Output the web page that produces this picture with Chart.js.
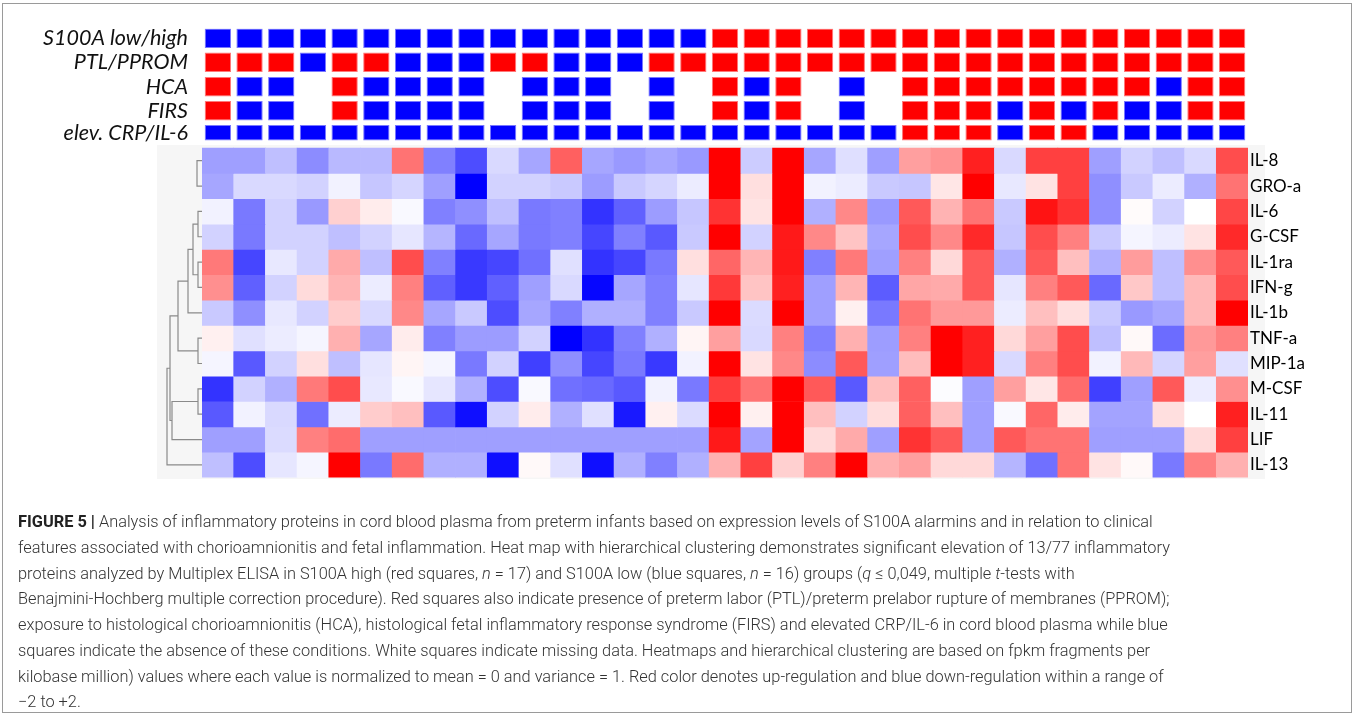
<!DOCTYPE html>
<html><head><meta charset="utf-8">
<script src="https://cdn.jsdelivr.net/npm/chart.js@4.4.1/dist/chart.umd.min.js"></script>
<style>
html,body{margin:0;padding:0;background:#fff;width:1355px;height:716px;overflow:hidden;}
#frame{position:absolute;left:2px;top:3px;width:1350px;height:710px;border:1px solid #9a9a9a;box-sizing:border-box;}
#panel{position:absolute;left:157px;top:145px;width:1108px;height:334px;background:#f6f6f6;}
#wrap{position:absolute;left:0;top:0;width:1355px;height:716px;}
#cap{position:absolute;left:18px;top:509px;font-family:Roboto,'Liberation Sans',sans-serif;font-weight:300;font-size:16.35px;line-height:25.75px;color:#333;white-space:nowrap;}
#cap b{font-weight:700;color:#222}
</style></head>
<body>
<div id="frame"></div>
<div id="panel"></div>
<div id="wrap"><canvas id="c" width="1355" height="716"></canvas></div>
<div id="cap">
<div><b>FIGURE 5 |</b> Analysis of inflammatory proteins in cord blood plasma from preterm infants based on expression levels of S100A alarmins and in relation to clinical</div>
<div>features associated with chorioamnionitis and fetal inflammation. Heat map with hierarchical clustering demonstrates significant elevation of 13/77 inflammatory</div>
<div>proteins analyzed by Multiplex ELISA in S100A high (red squares, <i>n</i> = 17) and S100A low (blue squares, <i>n</i> = 16) groups (<i>q</i> ≤ 0,049, multiple <i>t</i>-tests with</div>
<div>Benajmini-Hochberg multiple correction procedure). Red squares also indicate presence of preterm labor (PTL)/preterm prelabor rupture of membranes (PPROM);</div>
<div>exposure to histological chorioamnionitis (HCA), histological fetal inflammatory response syndrome (FIRS) and elevated CRP/IL-6 in cord blood plasma while blue</div>
<div>squares indicate the absence of these conditions. White squares indicate missing data. Heatmaps and hierarchical clustering are based on fpkm fragments per</div>
<div>kilobase million) values where each value is normalized to mean = 0 and variance = 1. Red color denotes up-regulation and blue down-regulation within a range of</div>
<div>−2 to +2.</div>
</div>
<script>
// ---------- DATA ----------
const samples = ['P1','P2','P3','P4','P5','P6','P7','P8','P9','P10','P11','P12','P13','P14','P15','P16','P17','P18','P19','P20','P21','P22','P23','P24','P25','P26','P27','P28','P29','P30','P31','P32','P33'];
const annotNames = ['S100A low/high','PTL/PPROM','HCA','FIRS','elev. CRP/IL-6'];
// 1 = red (high / present), 0 = blue (low / absent), null = missing
const s100a = [0,0,0,0,0,0,0,0,0,0,0,0,0,0,0,0, 1,1,1,1,1,1,1,1,1,1,1,1,1,1,1,1,1];
const ptl   = [1,1,1,0,1,1,0,0,0,1,1,0,0,0,1,1, 1,1,1,1,1,1,1,1,1,1,1,1,1,1,1,1,1];
const hca   = [1,0,0,null,1,0,0,0,0,null,0,0,0,null,0,null, 1,0,1,null,0,null,1,1,1,1,1,1,1,1,0,1,1];
const firs  = [1,0,0,null,1,0,0,0,0,null,0,0,0,null,0,null, 1,0,1,null,0,null,1,1,1,0,1,0,1,0,0,1,1];
const crp   = [0,0,0,0,0,0,0,0,0,0,0,0,0,0,0,0, 0,0,0,0,0,0,1,1,1,0,1,1,0,0,0,0,0];

const rowNames = ['IL-8','GRO-a','IL-6','G-CSF','IL-1ra','IFN-g','IL-1b','TNF-a','MIP-1a','M-CSF','IL-11','LIF','IL-13'];
const il8   = [-0.75,-0.75,-0.5,-0.9,-0.55,-0.55,1.1,-1.0,-1.4,-0.3,-0.7, 1.25,-0.7,-0.8,-0.7,-0.8,2,-0.4,2,-0.7,-0.25,-0.75, 0.75,0.85,1.75,-0.3,1.5,1.5,-0.75,-0.35,-0.5,-0.3,1.4];
const groa  = [-0.7,-0.3,-0.3,-0.35,-0.1,-0.45,-0.33,-0.75,-2,-0.35,-0.35, -0.42,-0.78,-0.42,-0.33,-0.15,2,0.25,2,-0.1,-0.15,-0.42, -0.45,0.2,2,-0.18,0.22,1.5,-0.88,-0.42,-0.15,-0.62,1.1];
const il6   = [-0.1,-1.05,-0.35,-0.8,0.37,0.15,-0.05,-1.0,-0.88,-0.5,-1.05, -1.0,-1.6,-1.25,-0.78,-0.45,1.6,0.22,2,-0.62,0.93,-0.8, 1.3,0.6,1.1,-0.42,1.85,1.6,-0.88,0.03,-0.35,0,1.45];
const gcsf  = [-0.35,-1.05,-0.35,-0.35,-0.5,-0.35,-0.2,-0.58,-1.18,-0.7,-1.05, -1.0,-1.45,-1.0,-1.3,-0.42,2,-0.35,1.8,0.93,0.46,-0.7, 1.4,0.93,1.68,-0.45,1.4,1.0,-0.42,-0.08,-0.15,0.22,1.68];
const il1ra = [1.05,-1.45,-0.18,-0.35,0.67,-0.5,1.4,-1.0,-1.55,-1.45,-1.12, -0.24,-1.6,-1.45,-1.05,0.25,1.2,0.58,1.8,-1.0,1.05,-0.75, 1.0,0.3,1.3,-0.62,1.3,0.5,-0.62,0.78,-0.5,0.88,1.3];
const ifng  = [0.88,-1.25,-0.35,0.28,0.58,-0.15,1.0,-1.25,-1.55,-1.25,-0.75, -0.3,-1.95,-0.7,-1.0,-0.2,1.55,0.46,1.75,-0.75,0.58,-1.28, 0.7,0.67,1.3,-0.2,1.0,1.3,-1.18,0.43,-0.5,0.55,1.4];
const il1b  = [-0.42,-0.88,-0.18,-0.35,0.4,-0.3,0.93,-0.7,-0.42,-1.4,-0.7, -1.0,-0.62,-0.62,-1.0,-0.42,2,-0.28,2,-0.75,0.12,-1.05, 1.1,0.8,0.8,-0.15,0.5,0.25,-0.42,-0.8,-0.7,0.55,2];
const tnfa  = [0.12,-0.24,-0.15,-0.08,0.62,-0.7,0.15,-1.0,-0.78,-0.78,-0.35, -2,-1.6,-1.0,-0.62,0.08,0.75,-0.3,1.0,-1.0,0.62,-0.77, 1.0,2,1.75,0.3,0.75,1.4,-0.5,0.05,-1.15,0.8,1.0];
const mip1a = [-0.08,-1.3,-0.35,0.25,-0.5,-0.2,0.08,-0.08,-1.05,-0.35,-1.5, -0.88,-1.45,-1.05,-1.55,-0.1,2,0.22,0.93,-0.9,1.3,-0.75, 0.52,2,1.75,-0.3,1.0,1.4,-0.1,0.55,-0.33,0.75,-0.24];
const mcsf  = [-1.6,-0.35,-0.62,1.05,1.4,-0.18,-0.05,-0.2,-0.62,-1.4,-0.05, -1.12,-1.18,-1.3,-0.1,-1.05,1.52,1.1,2,1.3,-1.3,0.5, 1.25,-0.02,-0.75,0.75,0.2,1.15,-1.5,-0.75,1.3,-0.15,0.88];
const il11  = [-1.3,-0.1,-0.3,-1.12,-0.15,0.4,0.5,-1.3,-1.88,-0.35,0.15, -0.62,-0.24,-1.8,0.12,-0.28,2,0.12,2,0.5,-0.35,0.27, 1.25,0.5,-0.75,-0.05,1.2,0.15,-0.72,-0.72,0.25,0,1.75];
const lif   = [-0.75,-0.75,-0.28,1.0,1.15,-0.75,-0.75,-0.75,-0.75,-0.75,-0.75, -0.75,-0.75,-0.75,-0.75,-0.75,1.8,-0.72,2,0.28,0.67,-0.75, 1.6,1.3,-0.75,1.3,1.1,1.1,-0.75,-0.75,-0.75,0.28,1.5];
const il13  = [-0.5,-1.4,-0.2,-0.08,2,-1.05,1.15,-0.62,-0.62,-1.88,0.05, -0.24,-1.88,-0.62,-1.0,-0.62,0.62,1.5,0.37,1.0,2,0.62, 0.75,0.3,0.3,-0.58,-1.12,1.1,0.22,0.05,-1.05,1.0,0.62];

// hierarchical clustering of rows: [childA, childB, height]; leaves 0..12, merges numbered from 13
const linkage = [
  [0,1,5],      // 13
  [2,3,4],      // 14
  [4,5,4],      // 15
  [14,15,9],    // 16
  [16,6,14],    // 17
  [7,8,4],      // 18
  [17,18,24],   // 19
  [9,10,4],     // 20
  [20,11,30],   // 21
  [19,21,32],   // 22
  [22,12,35]    // 23
];

// ---------- BUILD ----------
const annotRows = [s100a, ptl, hca, firs, crp];
const heatRows = [il8, groa, il6, gcsf, il1ra, ifng, il1b, tnfa, mip1a, mcsf, il11, lif, il13];

const ROW_TOP = 148, ROW_H = 25.35;                 // pixel layout of the heat map
const annotTopPx = [28.5, 52.5, 77, 101, 125];
const annotHPx   = [19.5, 19.5, 19.5, 19.5, 15.5];
const toU = p => (p - ROW_TOP) / ROW_H;
const yMin = toU(annotTopPx[0]);
const yMax = heatRows.length;

function heatColor(v){
  v = Math.max(-2, Math.min(2, v));
  if (v < 0){ const g = Math.round(255*(1 + v/2)); return `rgb(${g},${g},255)`; }
  const g = Math.round(255*(1 - v/2)); return `rgb(255,${g},${g})`;
}

const datasets = [];
heatRows.forEach((vals, r) => {
  datasets.push({
    label: rowNames[r], yAxisID:'y', grouped:false,
    data: vals.map(() => [r, r+1]),
    backgroundColor: vals.map(heatColor),
    borderWidth:0, barPercentage:1, categoryPercentage:1
  });
});
annotRows.forEach((flags, k) => {
  const t = toU(annotTopPx[k]), b = toU(annotTopPx[k] + annotHPx[k]);
  datasets.push({
    label: annotNames[k], yAxisID:'y', grouped:false,
    data: flags.map(f => f === null ? null : [t, b]),
    backgroundColor: flags.map(f => f ? 'rgb(255,0,0)' : 'rgb(0,0,255)'),
    borderColor: flags.map(f => f ? 'rgb(255,120,120)' : 'rgb(120,120,255)'),
    borderWidth:1, borderSkipped:false, barPercentage:0.83, categoryPercentage:1
  });
});

const dendroPlugin = {
  id:'dendro',
  afterDatasetsDraw(chart){
    const ctx = chart.ctx, y = chart.scales.y, left = chart.chartArea.left;
    const info = {};
    for (let i=0;i<rowNames.length;i++) info[i] = {y: y.getPixelForValue(i+0.5), h:0};
    const X = h => left - h;
    ctx.save();
    ctx.strokeStyle = '#8a8a8a'; ctx.lineWidth = 1.2;
    linkage.forEach(([a,b,h], i) => {
      const A = info[a], B = info[b];
      ctx.beginPath();
      ctx.moveTo(X(A.h), A.y); ctx.lineTo(X(h), A.y);
      ctx.lineTo(X(h), B.y); ctx.lineTo(X(B.h), B.y);
      ctx.stroke();
      info[rowNames.length + i] = {y:(A.y+B.y)/2, h};
    });
    ctx.restore();
  }
};

const axisCommon = {
  type:'linear', reverse:true, min:yMin, max:yMax, bounds:'data',
  grid:{display:false, drawTicks:false}, border:{display:false}
};

function draw(){
  new Chart(document.getElementById('c'), {
    type:'bar',
    data:{labels:samples, datasets},
    options:{
      responsive:false, animation:false, devicePixelRatio:1,
      layout:{padding:{top:annotTopPx[0], bottom:716-(ROW_TOP+ROW_H*yMax), left:0, right:0}},
      plugins:{legend:{display:false}, tooltip:{enabled:false}},
      scales:{
        x:{type:'category', display:false, offset:true, grid:{display:false}},
        y:Object.assign({}, axisCommon, {
          position:'right',
          afterFit(s){ s.width = 107; },
          afterBuildTicks(s){ s.ticks = rowNames.map((_,i)=>({value:i+0.5})); },
          ticks:{autoSkip:false, padding:2, color:'#000', font:{family:'Lato', size:17}, callback:(v,i)=>rowNames[i]}
        }),
        yl:Object.assign({}, axisCommon, {
          position:'left',
          afterFit(s){ s.width = 202; },
          afterBuildTicks(s){ s.ticks = annotNames.map((_,k)=>({value:toU(annotTopPx[k]+annotHPx[k]/2)})); },
          ticks:{autoSkip:false, padding:14, color:'#111', font:{family:'Lato', size:21.5, style:'italic'}, callback:(v,i)=>annotNames[i]}
        })
      }
    },
    plugins:[dendroPlugin]
  });
}
if (document.fonts && document.fonts.load){
  Promise.all([document.fonts.load('17px Lato'), document.fonts.load('italic 21.5px Lato')]).then(draw, draw);
} else draw();
</script>
</body></html>
